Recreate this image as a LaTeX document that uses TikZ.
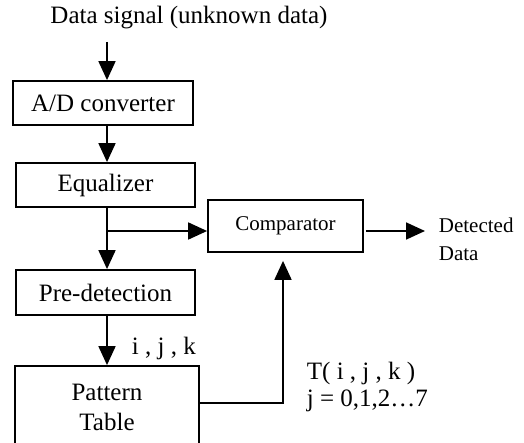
\documentclass[tikz,border=0pt]{standalone}
\usepackage{fontspec}
\setmainfont{Liberation Serif}
\usetikzlibrary{arrows.meta}
\begin{document}
\begin{tikzpicture}[x=0.5pt,y=-0.5pt,
  line width=0.9pt,
  arr/.style={-{Triangle[length=9.5pt,width=8.5pt]}},
  blk/.style={draw,rectangle,inner sep=0pt,align=center,
    font=\fontsize{12.5}{15}\selectfont},
  lbl/.style={inner sep=0pt,font=\fontsize{12.5}{13.5}\selectfont},
  small/.style={inner sep=0pt,font=\fontsize{10.5}{14}\selectfont}]
\clip (0,0) rectangle (524,443);

% signal chain
\node[lbl] (title) at (189,18) {Data signal (unknown data)};
\node[blk,minimum width=90pt,minimum height=22pt] (ad) at (103,103) {A/D converter};
\node[blk,minimum width=89.5pt,minimum height=22pt] (eq) at (105.5,185) {Equalizer};
\node[blk,minimum width=89.5pt,minimum height=22.5pt] (pre) at (105.5,292.5) {Pre-detection};
\node[blk,minimum width=92pt,minimum height=41pt] (pat) at (107,407) {Pattern\\Table};
\node[blk,font=\fontsize{10.5}{12}\selectfont,minimum width=77.5pt,minimum height=26pt] (cmp) at (285.5,226) {Comparator};

% labels
\node[small,anchor=west,align=left] (det) at (438,239) {Detected\\Data};
\node[lbl,anchor=west] (ijk) at (131,348) {i , j , k};
\node[lbl,anchor=west,align=left] (tij) at (306,386.5) {T( i , j , k )\\j = 0,1,2…7};

% helper points
\coordinate (spine) at (107,0);
\coordinate (top) at (107,42);
\coordinate (br) at (107,231);
\coordinate (out) at (425,231);
\coordinate (fb) at (283,403);

% connectors
\draw[arr] (top) -- (ad.north -| spine);
\draw[arr] (ad.south -| spine) -- (eq.north -| spine);
\draw[arr] (eq.south -| spine) -- (pre.north -| spine);
\draw[arr] (br) -- (cmp.west |- br);
\draw[arr] (pre.south -| spine) -- (pat.north -| spine);
\draw[arr,shorten <=1pt] (cmp.east |- out) -- (out);
\draw[arr,shorten >=4pt] (pat.east |- fb) -- (fb) -- (cmp.south -| fb);
\end{tikzpicture}
\end{document}
